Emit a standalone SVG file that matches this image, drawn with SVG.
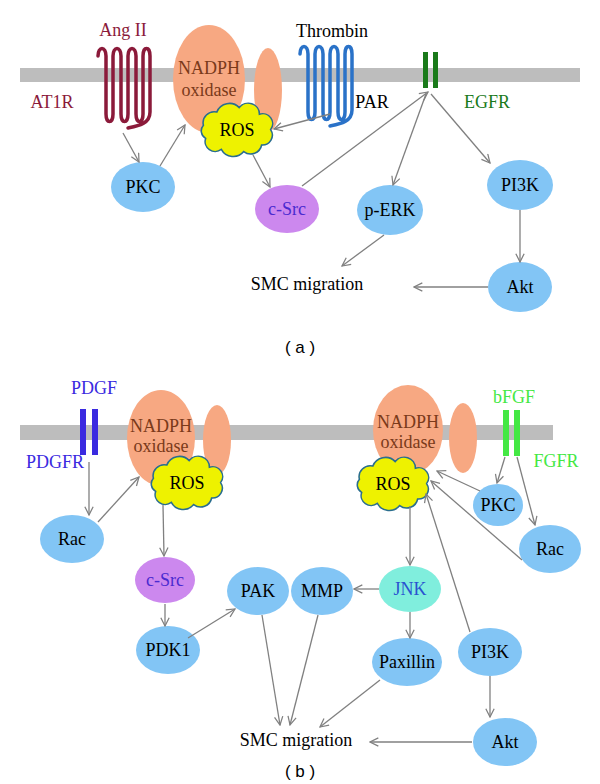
<svg xmlns="http://www.w3.org/2000/svg" width="600" height="784" viewBox="0 0 600 784">
<style>
text{font-family:"Liberation Serif",serif;font-size:18px;text-anchor:middle}
.mem{fill:#bdbdbd}
.nox{fill:#f7a882}
.blue{fill:#82c5f5}
.src{fill:#cc88ee}
.cl{fill:#eef200;stroke:#2a6e8e;stroke-width:1.4}
.c line{stroke:#808080;stroke-width:1.3;fill:none;marker-end:url(#ah)}
.sq{fill:none;stroke-width:3.5;stroke-linecap:round}
</style>
<defs>
<marker id="ah" viewBox="0 0 12 12" refX="11" refY="6" markerWidth="10" markerHeight="10" orient="auto" markerUnits="userSpaceOnUse">
<path d="M1,1 L11,6 L1,11" fill="none" stroke="#808080" stroke-width="1.5"/>
</marker>
<path id="cloud" d="M-30,-8 a10,10 0 0 1 12,-12 a12,12 0 0 1 20,-4 a10,10 0 0 1 18,6 a9,9 0 0 1 10,14 a9,9 0 0 1 -8,14 a10,10 0 0 1 -16,6 a12,12 0 0 1 -20,-2 a9,9 0 0 1 -14,-10 a8,8 0 0 1 -2,-12 z"/>
<path id="sq" d="M0,4 C0,-6 8,-6 8,4 L8,62 C8,72 15,72 15,62 L15,4 C15,-6 23,-6 23,4 L23,62 C23,72 30,72 30,62 L30,4 C30,-6 38,-6 38,4 L38,62 C38,72 45,72 45,62 L45,4 C45,-6 52,-6 52,4 L52,60 C52,72 40,74 30,76"/>
</defs>
<rect class="mem" x="20" y="68" width="560" height="14"/>
<rect class="mem" x="20" y="425" width="533" height="15"/>
<!-- panel a -->
<g id="AT1R"><use href="#sq" class="sq" stroke="#8b1a3a" transform="translate(98,52)"/><text x="123" y="36" fill="#8b1a3a">Ang II</text><text x="52" y="108" fill="#8b1a3a">AT1R</text></g>
<g id="NOXa"><ellipse class="nox" cx="209" cy="79" rx="36" ry="54"/><ellipse class="nox" cx="268" cy="90" rx="14" ry="42"/><text x="209" y="74" fill="#7a3a1a">NADPH</text><text x="209" y="96" fill="#7a3a1a">oxidase</text></g>
<g id="ROSa"><use href="#cloud" class="cl" transform="translate(237,134) scale(1.12,1.1)"/><text x="237" y="136">ROS</text></g>
<g id="PAR"><use href="#sq" class="sq" stroke="#2a72c8" transform="translate(300,50)"/><text x="332" y="37">Thrombin</text><text x="372" y="108">PAR</text></g>
<g id="EGFR"><rect x="423" y="52" width="5" height="36" fill="#1a7a1a"/><rect x="433" y="52" width="5" height="36" fill="#1a7a1a"/><text x="487" y="108" fill="#1a7a1a">EGFR</text></g>
<g id="PKCa"><ellipse class="blue" cx="143" cy="187" rx="32" ry="25"/><text x="143" y="193">PKC</text></g>
<g id="cSrca"><ellipse class="src" cx="287" cy="209" rx="32" ry="24"/><text x="287" y="215" fill="#4a2ad0">c-Src</text></g>
<g id="pERK"><ellipse class="blue" cx="390" cy="210" rx="33" ry="25"/><text x="390" y="216">p-ERK</text></g>
<g id="PI3Ka"><ellipse class="blue" cx="520" cy="185" rx="33" ry="25"/><text x="520" y="191">PI3K</text></g>
<g id="Akta"><ellipse class="blue" cx="520" cy="287" rx="32" ry="25"/><text x="520" y="293">Akt</text></g>
<text x="307" y="290">SMC migration</text>
<text x="300" y="353" style="font-family:'Liberation Sans',sans-serif;font-size:17px">( a )</text>
<!-- panel b -->
<g id="PDGFR"><rect x="80" y="409" width="6" height="46" fill="#3a2ae0"/><rect x="92" y="409" width="6" height="46" fill="#3a2ae0"/><text x="94" y="394" fill="#3a2ae0">PDGF</text><text x="55" y="468" fill="#3a2ae0">PDGFR</text></g>
<g id="NOXb1"><ellipse class="nox" cx="161" cy="438" rx="34" ry="48"/><ellipse class="nox" cx="217" cy="440" rx="14" ry="35"/><text x="161" y="432" fill="#7a3a1a">NADPH</text><text x="161" y="452" fill="#7a3a1a">oxidase</text></g>
<g id="ROSb1"><use href="#cloud" class="cl" transform="translate(187,487) scale(1.12,1.1)"/><text x="187" y="489">ROS</text></g>
<g id="NOXb2"><ellipse class="nox" cx="408" cy="430" rx="35" ry="45"/><ellipse class="nox" cx="463" cy="438" rx="14" ry="35"/><text x="408" y="428" fill="#7a3a1a">NADPH</text><text x="408" y="448" fill="#7a3a1a">oxidase</text></g>
<g id="ROSb2"><use href="#cloud" class="cl" transform="translate(393,488) scale(1.12,1.1)"/><text x="393" y="490">ROS</text></g>
<g id="FGFR"><rect x="503" y="410" width="6" height="46" fill="#44e844"/><rect x="514" y="410" width="6" height="46" fill="#44e844"/><text x="514" y="403" fill="#44e844">bFGF</text><text x="556" y="467" fill="#44e844">FGFR</text></g>
<g id="Racb1"><ellipse class="blue" cx="72" cy="539" rx="32" ry="24"/><text x="72" y="545">Rac</text></g>
<g id="cSrcb"><ellipse class="src" cx="165" cy="580" rx="30" ry="23"/><text x="165" y="586" fill="#4a2ad0">c-Src</text></g>
<g id="PDK1"><ellipse class="blue" cx="168" cy="650" rx="32" ry="24"/><text x="168" y="656">PDK1</text></g>
<g id="PAK"><ellipse class="blue" cx="258" cy="591" rx="31" ry="24"/><text x="258" y="597">PAK</text></g>
<g id="MMP"><ellipse class="blue" cx="322" cy="591" rx="31" ry="24"/><text x="322" y="597">MMP</text></g>
<g id="JNK"><ellipse fill="#80eedd" cx="410" cy="589" rx="31" ry="23"/><text x="410" y="595" fill="#2a52d0">JNK</text></g>
<g id="Paxillin"><ellipse class="blue" cx="407" cy="662" rx="35" ry="24"/><text x="407" y="668">Paxillin</text></g>
<g id="PKCb"><ellipse class="blue" cx="498" cy="505" rx="25" ry="21"/><text x="498" y="511">PKC</text></g>
<g id="Racb2"><ellipse class="blue" cx="550" cy="549" rx="31" ry="24"/><text x="550" y="555">Rac</text></g>
<g id="PI3Kb"><ellipse class="blue" cx="490" cy="652" rx="32" ry="24"/><text x="490" y="658">PI3K</text></g>
<g id="Aktb"><ellipse class="blue" cx="505" cy="742" rx="32" ry="24"/><text x="505" y="748">Akt</text></g>
<text x="296" y="746">SMC migration</text>
<text x="300" y="777" style="font-family:'Liberation Sans',sans-serif;font-size:17px">( b )</text>
<g class="c" id="connectors">
<line x1="123" y1="133" x2="139" y2="162"/>
<line x1="160" y1="166" x2="185" y2="125"/>
<line x1="330" y1="114" x2="274" y2="129"/>
<line x1="253" y1="155" x2="270" y2="187"/>
<line x1="302" y1="186" x2="428" y2="92"/>
<line x1="426" y1="94" x2="393" y2="185"/>
<line x1="431" y1="94" x2="490" y2="163"/>
<line x1="520" y1="210" x2="520" y2="262"/>
<line x1="384" y1="235" x2="342" y2="266"/>
<line x1="488" y1="287" x2="414" y2="287"/>
<line x1="89" y1="462" x2="89" y2="515"/>
<line x1="98" y1="522" x2="139" y2="477"/>
<line x1="163" y1="505" x2="164" y2="556"/>
<line x1="165" y1="604" x2="165" y2="626"/>
<line x1="188" y1="638" x2="235" y2="609"/>
<line x1="262" y1="615" x2="280" y2="725"/>
<line x1="318" y1="615" x2="290" y2="725"/>
<line x1="410" y1="506" x2="410" y2="565"/>
<line x1="379" y1="589" x2="354" y2="589"/>
<line x1="410" y1="612" x2="410" y2="638"/>
<line x1="380" y1="680" x2="320" y2="727"/>
<line x1="480" y1="491" x2="437" y2="471"/>
<line x1="505" y1="457" x2="497" y2="483"/>
<line x1="517" y1="457" x2="535" y2="525"/>
<line x1="522" y1="560" x2="431" y2="481"/>
<line x1="470" y1="632" x2="426" y2="494"/>
<line x1="490" y1="676" x2="490" y2="717"/>
<line x1="472" y1="742" x2="370" y2="742"/>
</g>
</svg>
